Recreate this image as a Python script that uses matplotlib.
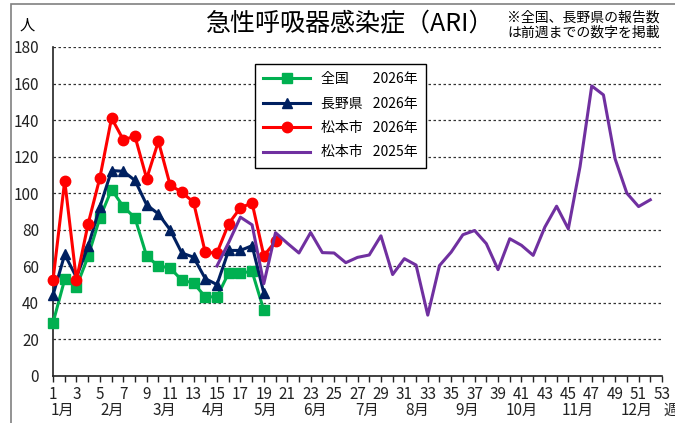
import matplotlib
matplotlib.use('Agg')
import matplotlib.pyplot as plt
import matplotlib.transforms as mtrans
from matplotlib.patches import Rectangle

plt.rcParams['font.family'] = ['Noto Sans CJK JP', 'DejaVu Sans']

# weekly data (persons per sentinel)
weeks_2026 = list(range(1, 20))
zenkoku_2026 = [29.1, 52.9, 48.7, 65.5, 86.5, 102.0, 92.7, 86.5, 65.5, 60.2,
                59.1, 52.4, 50.9, 43.3, 43.3, 56.4, 56.4, 57.2, 36.0]
nagano_2026 = [44.2, 66.5, 54.0, 71.0, 92.4, 112.4, 112.0, 107.0, 93.6, 88.7,
               80.0, 67.3, 65.0, 53.3, 50.0, 68.7, 68.7, 71.3, 45.5]
weeks_matsu_2026 = list(range(1, 21))
matsumoto_2026 = [52.4, 106.9, 52.4, 83.3, 108.4, 141.1, 129.3, 131.1, 108.0, 128.4,
                  104.5, 100.5, 95.1, 67.6, 67.3, 83.3, 92.0, 94.7, 65.8, 73.6]
weeks_2025 = list(range(15, 53))
matsumoto_2025 = [60.2, 73.0, 86.9, 82.7, 50.5, 78.4, 72.7, 67.3, 78.5, 67.5,
                  67.3, 62.0, 64.9, 66.2, 76.7, 55.5, 64.2, 60.7, 33.3, 60.4,
                  67.8, 77.3, 79.6, 72.4, 58.2, 75.1, 71.5, 66.0, 81.5, 92.9,
                  80.5, 114.5, 158.7, 153.8, 118.7, 100.0, 92.7, 96.4]

months = ['1月', '2月', '3月', '4月', '5月', '6月', '7月', '8月', '9月', '10月', '11月', '12月']
month_pos = [1.85, 6.1, 10.5, 14.7, 19.1, 23.4, 27.8, 32.1, 36.4, 41.0, 45.8, 50.8]

fig = plt.figure(figsize=(6.75, 4.23), dpi=100)
ax = fig.add_axes([53/675, 1-376/423, 609/675, (376-47)/423])

# outer chart frame (right/bottom edges fall outside the image, as in the original)
fig.patches.append(Rectangle((11/675, -0.1), 1.2, 1.1 - 4/423, transform=fig.transFigure,
                             fill=False, edgecolor='#808080', linewidth=1.2))

ax.plot(weeks_2026, zenkoku_2026, color='#00B050', lw=2.2, marker='s', ms=7,
        label='全国\u3000\u2002 2026年', clip_on=False, zorder=3)
ax.plot(weeks_2026, nagano_2026, color='#002060', lw=2.2, marker='^', ms=7,
        label='長野県\u2002 2026年', clip_on=False, zorder=4)
ax.plot(weeks_matsu_2026, matsumoto_2026, color='#FF0000', lw=2.2, marker='o', ms=7.5,
        label='松本市\u2002 2026年', clip_on=False, zorder=5)
ax.plot(weeks_2025, matsumoto_2025, color='#7030A0', lw=2.2,
        label='松本市\u2002 2025年', clip_on=False, zorder=6)

ax.set_xlim(1, 53)
ax.set_ylim(0, 180)
ax.set_xticks(range(1, 54))
ax.set_xticklabels([str(w) if w % 2 == 1 else '' for w in range(1, 54)])
ax.set_yticks(range(0, 181, 20))
ax.tick_params(axis='x', direction='out', length=4, width=1, pad=3, labelsize=11, colors='#222222')
ax.tick_params(axis='y', length=0, pad=10, labelsize=11, colors='#222222')
ax.grid(axis='y', linestyle=(0, (2, 2)), color='#333333', linewidth=0.9)
ax.set_axisbelow(True)
for s in ['top', 'right']:
    ax.spines[s].set_visible(False)
for s in ['left', 'bottom']:
    ax.spines[s].set_linewidth(1.2)
    ax.spines[s].set_color('#222222')

trans = mtrans.blended_transform_factory(ax.transData, ax.transAxes)
for m, p in zip(months, month_pos):
    ax.text(p, -0.105, m, transform=trans, ha='center', va='center', fontsize=11, color='#222222')
ax.text(53.8, -0.105, '週', transform=trans, ha='center', va='center', fontsize=11, color='#222222')

leg = ax.legend(loc='upper left', bbox_to_anchor=(0.32, 0.97), fontsize=10,
                handlelength=3.4, labelspacing=0.75, borderpad=0.6, fancybox=False,
                framealpha=1, edgecolor='black')
leg.get_frame().set_linewidth(1.0)

fig.text(350/675, 1-24/423, '急性呼吸器感染症（ARI）', ha='center', va='center', fontsize=18)
fig.text(507/675, 1-25/423, '※全国、長野県の報告数\nは前週までの数字を掲載', ha='left', va='center',
         fontsize=10, linespacing=1.1)
fig.text(27/675, 1-25/423, '人', ha='center', va='center', fontsize=11)

fig.savefig('out.png', dpi=100)
